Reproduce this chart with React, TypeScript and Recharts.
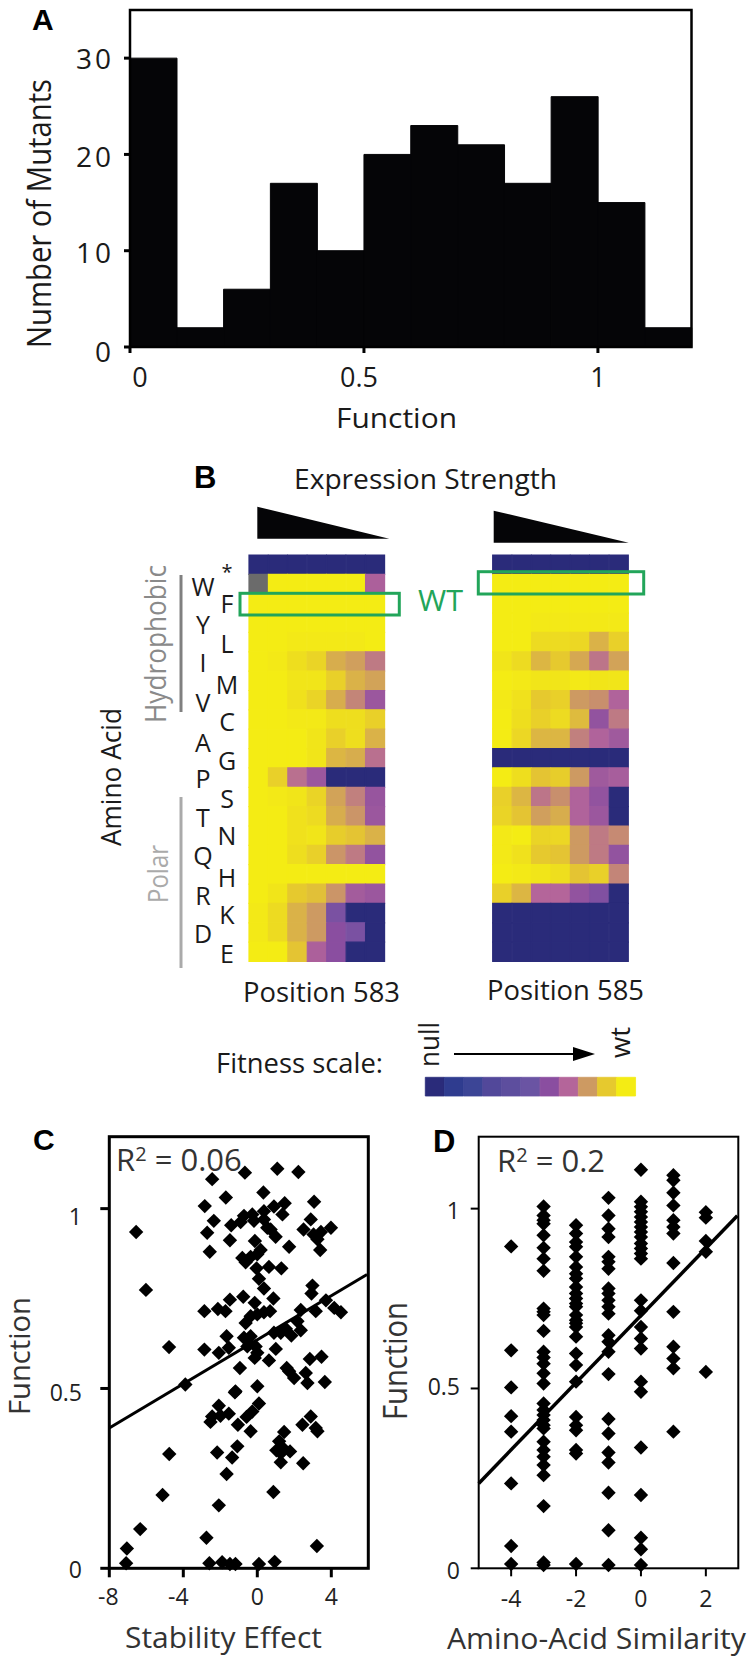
import React from 'react';
import { BarChart, Bar, XAxis, YAxis, Cell, ScatterChart, Scatter, ReferenceLine } from 'recharts';

const W = 753;
const H = 1664;
const FONT = '"Open Sans", "Noto Sans", sans-serif';
const BOLD = '"Liberation Sans", Arial, sans-serif';

// Panel A
const histBins = ['0', '0.1', '0.2', '0.3', '0.4', '0.5', '0.6', '0.7', '0.8', '0.9', '1', '1.1'];
const histCounts = [30, 2, 6, 17, 10, 20, 23, 21, 17, 26, 15, 2];
const histAxisTicks = [0, 0.5, 1];

// Panel B
const aminoAcids = ['*', 'W', 'F', 'Y', 'L', 'I', 'M', 'V', 'C', 'A', 'G', 'P', 'S', 'T', 'N', 'Q', 'H', 'R', 'K', 'D', 'E'];
const scaleStops = ['#2a2b7a', '#2f3c8f', '#3c4596', '#52489a', '#5d4e9e', '#6a54a3', '#8a4ea0', '#b4659a', '#cd9a62', '#e6c92e', '#f4ec14'];
const position583: (number | null)[][] = [
  [0, 0, 0, 0, 0, 0, 0],
  [null, 10, 10, 10, 10, 10, 6.8],
  [10, 10, 10, 10, 10, 10, 10],
  [10, 10, 10, 10, 10, 10, 10],
  [10, 10, 9.9, 9.9, 9.9, 9.9, 10],
  [10, 9.9, 9.6, 9.3, 8.4, 8.1, 7.4],
  [10, 10, 9.8, 9.8, 9.2, 8.5, 8.2],
  [10, 10, 9.7, 9.3, 8.4, 7.6, 6.4],
  [10, 10, 9.9, 9.9, 9.6, 9.6, 9.2],
  [10, 10, 10, 9.8, 9.2, 9.6, 8.5],
  [10, 10, 10, 9.8, 8.6, 8.4, 7.2],
  [10, 9.2, 7.2, 6.4, 0, 0, 0],
  [10, 9.9, 9.8, 9.3, 8.2, 7.5, 6.3],
  [10, 10, 9.7, 9.5, 8.4, 7.9, 6.4],
  [10, 10, 9.7, 9.8, 9.1, 8.9, 8.5],
  [10, 10, 9.6, 9.2, 7.9, 7.4, 6.2],
  [10, 10, 10, 10, 10, 10, 10],
  [10, 9.8, 9, 8.8, 7.9, 6.6, 6.4],
  [9.9, 9.5, 8.5, 8, 5.5, 0, 0],
  [9.9, 9.5, 8.5, 8, 6, 5.5, 0],
  [10, 10, 8.9, 6.8, 6, 0, 0],
];
const position585: (number | null)[][] = [
  [0, 0, 0, 0, 0, 0, 0],
  [10, 10, 10, 10, 10, 10, 10],
  [10, 10, 10, 10, 10, 10, 10],
  [10, 10, 9.9, 9.9, 9.9, 9.9, 9.9],
  [10, 10, 9.5, 9.5, 9.4, 8.5, 9.2],
  [9.8, 9.5, 8.6, 9, 8.3, 7.3, 8.2],
  [10, 9.9, 9.8, 9.8, 9.9, 9.8, 9.8],
  [9.9, 9.7, 9, 9.2, 8, 7.8, 6.9],
  [10, 9.6, 9.2, 9.5, 8.7, 6.2, 7.4],
  [10, 9.4, 8.6, 8.6, 7.5, 6.9, 6.5],
  [0, 0, 0, 0, 0, 0, 0],
  [10, 9.6, 8.9, 9.1, 8, 6.5, 6.7],
  [9.2, 8.6, 7.3, 7.8, 6.9, 6.2, 0],
  [9.3, 8.9, 8.1, 8.4, 6.9, 6.4, 0],
  [9.9, 10, 9.3, 9.4, 8, 7.4, 7.7],
  [9.9, 9.7, 9, 8.9, 8, 7.4, 6.2],
  [10, 9.9, 9.8, 9.6, 8.9, 9.2, 7.6],
  [9.2, 8.6, 7, 7, 6.2, 5.7, 0],
  [0, 0, 0, 0, 0, 0, 0],
  [0, 0, 0, 0, 0, 0, 0],
  [0, 0, 0, 0, 0, 0, 0],
];
const expressionLevels = [1, 2, 3, 4, 5, 6, 7];
const fitnessLevels = [0, 1, 2, 3, 4, 5, 6, 7, 8, 9, 10];

// Panel C
const stabilityX = [-6.55, -6.02, -4.77, -3.89, -2.86, -2.13, -1.72, -1.48, -0.76, -0.14, 0.87, 0.36, -2.86, -2.08, -1.66, -1.54, -0.63, -0.36, 0, 0.36, 0.69, -0.72, -0.36, -0.54, -0.09, 0, -0.14, 0.63, 1, 0.9, 1.27, 1.54, 1.84, 2.35, 2.17, 2.35, 3.16, 3.71, 4.16, 4.52, 2.98, 2.93, -0.94, -1.18, 0, 1.59, 1.99, 2.62, 2.71, 2.84, 3.47, 3.65, 1.72, -2.44, -0.67, 1.08, 2.22, -1.7, 0.33, -2.84, 0.9, 1.48, 3.07, 1.36, -0.72, -0.27, 0.36, -2.35, -0.9, -0.18, 0.36, 0.54, 2.89, -1.41, -2.71, 0.72, 0.99, 2.5, 3.98, 3.44, 3.04, 3.25, -1.48, -0.13, 1.72, 3.4, -2.57, 0.18, 0, -0.36, -0.81, -0.63, 0.63, 1.3, -0.04, 0.09, -2.08, -2.44, -2.53, -1.99, -1.54, -1.21, 0.09, -0.27, -0.58, -1.05, -0.36, 2.89, 2.44, 3.16, 3.25, 1.45, 1.18, 1.03, 1.45, 1.77, 1.27, 1.27, 2.48, -1.08, -2.17, -1.36, -4.76, -1.66, 0.87, -5.12, -2.08, -6.33, -2.75, -7.05, 3.22, -7.09, -2.59, -1.9, -1.48, -1.18, 0.09, 0.94];
const stabilityY = [0.935, 0.774, 0.615, 0.511, 0.715, 0.721, 0.715, 0.747, 0.755, 0.738, 0.75, 0.778, 0.608, 0.599, 0.645, 0.613, 0.682, 0.701, 0.706, 0.712, 0.715, 0.641, 0.645, 0.617, 0.617, 0.599, 0.585, 0.578, 0.61, 0.655, 0.655, 0.666, 0.647, 0.662, 0.687, 0.718, 0.715, 0.745, 0.724, 0.712, 0.786, 0.764, 0.557, 0.492, 0.506, 0.557, 0.529, 0.543, 0.515, 0.582, 0.588, 0.518, 0.548, 1.082, 1.1, 1.111, 1.102, 1.031, 1.045, 1.007, 1.006, 1.015, 1.019, 0.984, 0.98, 0.984, 0.993, 0.966, 0.963, 0.966, 0.97, 0.947, 0.97, 0.954, 0.933, 0.942, 0.922, 0.942, 0.947, 0.935, 0.928, 0.915, 0.912, 0.91, 0.894, 0.885, 0.88, 0.885, 0.873, 0.866, 0.863, 0.851, 0.838, 0.834, 0.834, 0.805, 0.452, 0.422, 0.407, 0.424, 0.43, 0.489, 0.458, 0.436, 0.421, 0.399, 0.381, 0.422, 0.399, 0.39, 0.381, 0.379, 0.353, 0.328, 0.331, 0.325, 0.32, 0.295, 0.292, 0.339, 0.322, 0.308, 0.318, 0.262, 0.212, 0.204, 0.175, 0.109, 0.085, 0.055, 0.062, 0.014, 0.014, 0.017, 0.012, 0.012, 0.012, 0.018];
const stabilityFitX = [-8, 5.93];
const stabilityFitY = [0.39, 0.817];

// Panel D
const similarityGroups: [number, number[]][] = [
  [-4, [0.895, 0.606, 0.503, 0.423, 0.38, 0.236, 0.062, 0.012]],
  [-3, [1.006, 0.981, 0.968, 0.958, 0.926, 0.891, 0.861, 0.827, 0.722, 0.713, 0.704, 0.66, 0.602, 0.586, 0.569, 0.542, 0.514, 0.458, 0.44, 0.426, 0.412, 0.398, 0.389, 0.352, 0.329, 0.31, 0.287, 0.259, 0.173, 0.016, 0.009]],
  [-2, [0.954, 0.931, 0.907, 0.894, 0.866, 0.838, 0.819, 0.806, 0.782, 0.764, 0.75, 0.736, 0.727, 0.704, 0.69, 0.681, 0.671, 0.644, 0.597, 0.565, 0.519, 0.421, 0.398, 0.384, 0.329, 0.319, 0.012]],
  [-1, [1.03, 0.981, 0.944, 0.921, 0.866, 0.852, 0.833, 0.778, 0.764, 0.745, 0.727, 0.708, 0.648, 0.63, 0.602, 0.54, 0.415, 0.375, 0.322, 0.294, 0.21, 0.106, 0.009]],
  [0, [1.108, 1.019, 1.005, 0.991, 0.977, 0.963, 0.949, 0.935, 0.921, 0.903, 0.889, 0.875, 0.861, 0.745, 0.716, 0.671, 0.639, 0.611, 0.519, 0.491, 0.336, 0.204, 0.085, 0.053, 0.009]],
  [1, [1.093, 1.079, 1.044, 1.009, 0.968, 0.949, 0.931, 0.849, 0.713, 0.616, 0.583, 0.556, 0.38]],
  [2, [0.99, 0.975, 0.91, 0.88, 0.546]],
];
const similarityFitX = [-5, 2.97];
const similarityFitY = [0.236, 0.98];

const histData = histBins.map((bin, i) => ({ bin, count: histCounts[i] }));
const histAxisData = histAxisTicks.map((x) => ({ x, y: 0 }));
const stabilityData = stabilityX.map((x, i) => ({ x, y: stabilityY[i] }));
const similarityData = similarityGroups.flatMap(([x, ys]) => ys.map((y) => ({ x, y })));
const fitnessData = fitnessLevels.map((level) => ({ level, v: 1 }));

function hexToRgb(h: string) {
  return [1, 3, 5].map((i) => parseInt(h.slice(i, i + 2), 16));
}
function levelColor(level: number | null) {
  if (level === null) return '#6b6b6b';
  const lo = Math.floor(level);
  const hi = Math.min(10, lo + 1);
  const t = level - lo;
  const a = hexToRgb(scaleStops[lo]);
  const b = hexToRgb(scaleStops[hi]);
  return `rgb(${a.map((v, i) => Math.round(v + (b[i] - v) * t)).join(',')})`;
}

const page: React.CSSProperties = { position: 'absolute', left: 0, top: 0, width: W, height: H };

function box(l: number, t: number, r: number, b: number) {
  return { left: l, top: t, right: W - r, bottom: H - b };
}
// Margins for a chart whose axes take 1px of width and height.
function axisBox(l: number, t: number, r: number, b: number) {
  return { left: l - 1, top: t, right: W - r, bottom: H - b - 1 };
}

function Diamond({ cx, cy }: any) {
  const s = 7.2;
  return <path d={`M${cx} ${cy - s}L${cx + s} ${cy}L${cx} ${cy + s}L${cx - s} ${cy}Z`} fill="#000" />;
}

function Label({ x, y, w, size = 28, fill = '#1a1a1a', rot, anchor = 'start', children, family = FONT, weight = 400 }: any) {
  const tf = rot ? `rotate(-90 ${x} ${y})` : undefined;
  return (
    <text x={x} y={y} transform={tf} fontFamily={family} fontWeight={weight} fontSize={size} fill={fill} textAnchor={anchor}
      textLength={w} lengthAdjust={w ? 'spacingAndGlyphs' : undefined}>
      {children}
    </text>
  );
}

const yTick = (right: number, dy: Record<string, number>, size: number, fill: string, spacing = 0) => ({ y, payload }: any) => (
  <text x={right} y={y + (dy[String(payload.value)] ?? 8)} textAnchor="end" fontFamily={FONT} fontSize={size} fill={fill} letterSpacing={spacing}>
    {payload.value}
  </text>
);
const xTick = (base: number, dx: Record<string, number>, size: number, fill: string) => ({ x, payload }: any) => (
  <text x={x + (dx[String(payload.value)] ?? 0)} y={base} textAnchor="middle" fontFamily={FONT} fontSize={size} fill={fill}>
    {payload.value}
  </text>
);

function Heat({ matrix, left, right }: { matrix: (number | null)[][]; left: number; right: number }) {
  const data = expressionLevels.map((level) => {
    const row: Record<string, number> = { level };
    aminoAcids.forEach((_, r) => { row['r' + r] = 1; });
    return row;
  });
  return (
    <div style={page}>
      <BarChart width={W} height={H} data={data} margin={box(left, 555, right, 961.5)} barCategoryGap={0} barGap={0}>
        <XAxis dataKey="level" hide height={0} padding={{ left: 0, right: 0 }} />
        <YAxis hide width={0} domain={[0, 21]} reversed type="number" />
        {aminoAcids.map((_, r) => (
          <Bar key={r} dataKey={'r' + r} stackId="s" isAnimationActive={false}>
            {expressionLevels.map((_l, c) => {
              const color = levelColor(matrix[r][c]);
              return <Cell key={c} fill={color} stroke={color} strokeWidth={1.2} />;
            })}
          </Bar>
        ))}
      </BarChart>
    </div>
  );
}

const leftLetters: [string, number][] = [['W', 596], ['Y', 634], ['I', 672], ['V', 712], ['A', 752], ['P', 788], ['T', 827], ['Q', 865], ['R', 905], ['D', 943]];
const rightLetters: [string, number][] = [['F', 613], ['L', 653], ['M', 694], ['C', 731], ['G', 770], ['S', 808], ['N', 845], ['H', 887], ['K', 924], ['E', 963]];

export default function App() {
  return (
    <div style={{ ...page, background: '#fff', overflow: 'hidden' }}>
      {/* A */}
      <div style={page}>
        <BarChart width={W} height={H} data={histData} margin={{ ...box(130, 10, 691.5, 347), left: 129 }} barCategoryGap={0} barGap={0}>
          <XAxis dataKey="bin" hide height={0} padding={{ left: 0, right: 0 }} />
          <YAxis type="number" domain={[0, 35]} ticks={[0, 10, 20, 30]} width={1} axisLine={false}
            tickLine={{ stroke: '#000', strokeWidth: 3 }} tickSize={6} tick={yTick(114, { '30': 11, '20': 13, '10': 12, '0': 15 }, 28, '#1a1a1a', 3)} interval={0} />
          <Bar dataKey="count" fill="#050507" stroke="#050507" strokeWidth={1} isAnimationActive={false} />
        </BarChart>
      </div>
      <div style={page}>
        <ScatterChart width={W} height={H} margin={{ ...box(130, 10, 691.5, 347), bottom: H - 347 - 1 }}>
          <XAxis type="number" dataKey="x" domain={[0, 1.2]} ticks={histAxisTicks} height={1} axisLine={false}
            tickLine={{ stroke: '#000', strokeWidth: 3 }} tickSize={6} tick={xTick(387, { '0': 10, '0.5': -5 }, 27, '#1a1a1a')} interval={0} />
          <YAxis type="number" dataKey="y" hide width={0} domain={[0, 35]} />
          <Scatter data={histAxisData} shape={() => null} isAnimationActive={false} />
        </ScatterChart>
      </div>

      {/* B */}
      <Heat matrix={position583} left={249} right={385} />
      <Heat matrix={position585} left={492.7} right={628.7} />
      <div style={page}>
        <BarChart width={W} height={H} data={fitnessData} margin={box(425.3, 1077.3, 635.7, 1096)} barCategoryGap={0} barGap={0}>
          <XAxis dataKey="level" hide height={0} padding={{ left: 0, right: 0 }} />
          <YAxis hide width={0} domain={[0, 1]} type="number" />
          <Bar dataKey="v" isAnimationActive={false}>
            {fitnessLevels.map((l) => <Cell key={l} fill={levelColor(l)} stroke={levelColor(l)} strokeWidth={0.8} />)}
          </Bar>
        </BarChart>
      </div>

      {/* C */}
      <div style={page}>
        <ScatterChart width={W} height={H} margin={axisBox(109.3, 1136.7, 368.3, 1568.3)}>
          <XAxis type="number" dataKey="x" domain={[-8, 6]} ticks={[-8, -4, 0, 4]} height={1} axisLine={false} interval={0}
            tickLine={{ stroke: '#000', strokeWidth: 3 }} tickSize={9} tick={xTick(1605, { '-8': -1, '-4': -5 }, 23, '#222')} />
          <YAxis type="number" dataKey="y" domain={[0, 1.2]} ticks={[0, 0.5, 1]} width={1} axisLine={false} interval={0}
            tickLine={{ stroke: '#000', strokeWidth: 3 }} tickSize={9} tick={yTick(82, { '1': 16, '0.5': 13, '0': 10 }, 23, '#222')} />
          <ReferenceLine segment={[{ x: stabilityFitX[0], y: stabilityFitY[0] }, { x: stabilityFitX[1], y: stabilityFitY[1] }]} stroke="#000" strokeWidth={3} />
          <Scatter data={stabilityData} shape={Diamond} isAnimationActive={false} />
        </ScatterChart>
      </div>

      {/* D */}
      <div style={page}>
        <ScatterChart width={W} height={H} margin={axisBox(478.7, 1136.7, 738.3, 1568.3)}>
          <XAxis type="number" dataKey="x" domain={[-5, 3]} ticks={[-4, -2, 0, 2]} height={1} axisLine={false} interval={0}
            tickLine={{ stroke: '#000', strokeWidth: 2 }} tickSize={8} tick={xTick(1607, {}, 23, '#222')} />
          <YAxis type="number" dataKey="y" domain={[0, 1.2]} ticks={[0, 0.5, 1]} width={1} axisLine={false} interval={0}
            tickLine={{ stroke: '#000', strokeWidth: 2 }} tickSize={8} tick={yTick(460, { '1': 10, '0.5': 7, '0': 11 }, 23, '#222')} />
          <ReferenceLine segment={[{ x: similarityFitX[0], y: similarityFitY[0] }, { x: similarityFitX[1], y: similarityFitY[1] }]} stroke="#000" strokeWidth={3.5} />
          <Scatter data={similarityData} shape={Diamond} isAnimationActive={false} />
        </ScatterChart>
      </div>

      {/* Frames, labels and annotations */}
      <svg width={W} height={H} style={{ ...page, pointerEvents: 'none' }}>
        <rect x={130} y={10} width={561.5} height={337} fill="none" stroke="#000" strokeWidth={2.5} />
        <rect x={109.3} y={1136.7} width={259} height={431.6} fill="none" stroke="#000" strokeWidth={3} />
        <rect x={478.7} y={1136.7} width={259.6} height={431.6} fill="none" stroke="#000" strokeWidth={2} />

        <Label x={32} y={30} size={30} family={BOLD} weight={700} fill="#000">A</Label>
        <Label x={194} y={488} size={31} family={BOLD} weight={700} fill="#000">B</Label>
        <Label x={33} y={1150} size={30} family={BOLD} weight={700} fill="#000">C</Label>
        <Label x={433} y={1152} size={31} family={BOLD} weight={700} fill="#000">D</Label>

        <Label x={336} y={428} w={121} size={28}>Function</Label>
        <Label x={51} y={348} w={269} size={33} rot>Number of Mutants</Label>

        <Label x={294} y={489} w={263} size={28}>Expression Strength</Label>
        <polygon points="257.3,506.7 257.3,538.7 389.3,538.7" fill="#050507" />
        <polygon points="493.7,510.7 493.7,542.7 628.7,542.7" fill="#050507" />
        <rect x={240} y={593.3} width={159.3} height={21.7} fill="none" stroke="#22a55a" strokeWidth={3} />
        <rect x={478.3} y={571.7} width={165.4} height={22.3} fill="none" stroke="#22a55a" strokeWidth={3} />
        <Label x={418} y={611} w={45} size={29} fill="#22a55a">WT</Label>

        <Label x={227} y={579} size={20} anchor="middle">*</Label>
        {leftLetters.map(([t, y]) => <Label key={t} x={203} y={y} size={25} anchor="middle">{t}</Label>)}
        {rightLetters.map(([t, y]) => <Label key={t} x={227} y={y} size={25} anchor="middle">{t}</Label>)}

        <Label x={166} y={723} w={158} size={29} rot fill="#8a8a8a">Hydrophobic</Label>
        <line x1={181} y1={575} x2={181} y2={712} stroke="#808080" strokeWidth={3} />
        <Label x={168} y={903} w={58} size={28} rot fill="#aaaaaa">Polar</Label>
        <line x1={181} y1={797} x2={181} y2={968} stroke="#aaaaaa" strokeWidth={3} />
        <Label x={121} y={846} w={138} size={28} rot>Amino Acid</Label>

        <Label x={243} y={1002} w={157} size={28}>Position 583</Label>
        <Label x={487} y={1000} w={157} size={28}>Position 585</Label>

        <Label x={216} y={1073} w={167} size={28}>Fitness scale:</Label>
        <Label x={439} y={1067} w={45} size={27} rot>null</Label>
        <Label x={630} y={1058} w={31} size={27} rot>wt</Label>
        <line x1={454} y1={1054} x2={577} y2={1054} stroke="#000" strokeWidth={2} />
        <polygon points="573,1047 595,1054 573,1061" fill="#000" />

        <text x={116} y={1171} fontFamily={FONT} fontSize={31} fill="#333">
          R<tspan dy={-10} fontSize={20}>2</tspan><tspan dy={10}> = 0.06</tspan>
        </text>
        <text x={497} y={1172} fontFamily={FONT} fontSize={31} fill="#333">
          R<tspan dy={-10} fontSize={20}>2</tspan><tspan dy={10}> = 0.2</tspan>
        </text>

        <Label x={125} y={1648} w={197} size={30} fill="#333">Stability Effect</Label>
        <Label x={30} y={1415} w={118} size={29} rot fill="#333">Function</Label>
        <Label x={447} y={1649} w={299} size={30} fill="#333">Amino-Acid Similarity</Label>
        <Label x={406.5} y={1420} w={118} size={32} rot fill="#333">Function</Label>
      </svg>
    </div>
  );
}
